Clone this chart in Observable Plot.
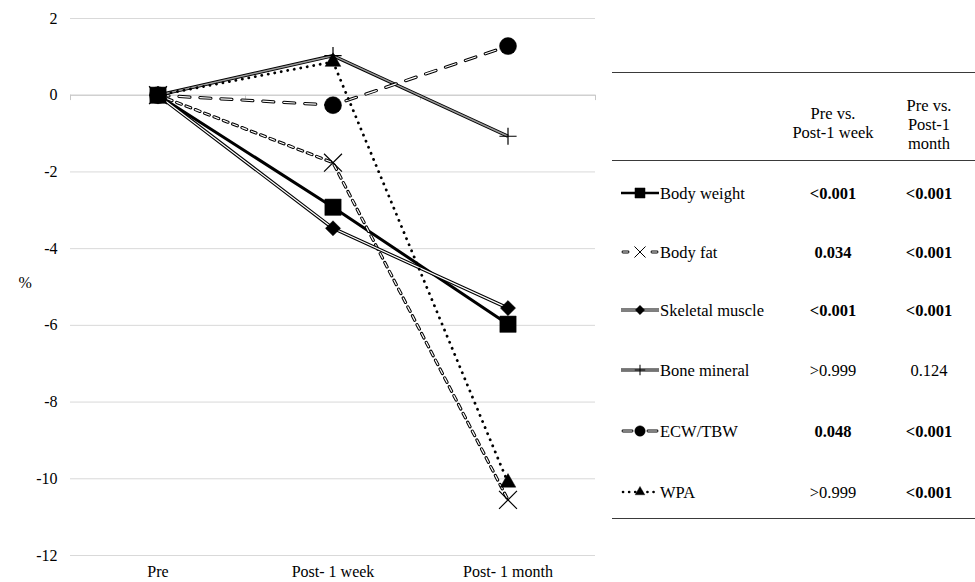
<!DOCTYPE html>
<html><head><meta charset="utf-8">
<script src="https://cdn.jsdelivr.net/npm/d3@7"></script>
<script src="https://cdn.jsdelivr.net/npm/@observablehq/plot@0.6"></script>
<style>
body{margin:0;background:#fff;font-family:"Liberation Serif","Times New Roman",serif;}
#wrap{position:relative;width:975px;height:582px;overflow:hidden;font-family:"Liberation Serif","Times New Roman",serif;}
#chart{position:absolute;left:0;top:0;}
#chart svg, #chart svg text{font-family:"Liberation Serif","Times New Roman",serif !important;}
.t{position:absolute;font-size:16.5px;color:#000;white-space:nowrap;line-height:19px;}
.c{transform:translateX(-50%);text-align:center;}
.hl{position:absolute;left:612px;width:363px;height:0;border-top:1.3px solid #3a3a3a;}
.sw{position:absolute;}
</style></head><body><div id="wrap"><div id="chart"></div></div>
<script>
// ---- data ----
const timepoints = ["Pre", "Post- 1 week", "Post- 1 month"];
const seriesNames = ["Body weight", "Body fat", "Skeletal muscle", "Bone mineral", "ECW/TBW", "WPA"];
const bodyWeight = [0, -2.92, -5.97];
const bodyFat = [0, -1.76, -10.55];
const skeletalMuscle = [0, -3.47, -5.55];
const boneMineral = [0, 1.03, -1.07];
const ecwTbw = [0, -0.26, 1.28];
const wpa = [0, 0.87, -10.1];
const yTicks = [2, 0, -2, -4, -6, -8, -10, -12];
const headerWeek = ["Pre vs.", "Post-1 week"];
const headerMonth = ["Pre vs.", "Post-1", "month"];
const pWeek = ["<0.001", "0.034", "<0.001", ">0.999", "0.048", ">0.999"];
const pMonth = ["<0.001", "<0.001", "<0.001", "0.124", "<0.001", "<0.001"];
const boldWeek = [true, true, true, false, true, false];
const boldMonth = [true, true, true, false, true, true];

const seriesValues = [bodyWeight, bodyFat, skeletalMuscle, boneMineral, ecwTbw, wpa];
const data = seriesNames.flatMap((s, k) => seriesValues[k].map((v, i) => ({s, i, v})));

const FONT = "'Liberation Serif', 'Times New Roman', serif";

// ---- styles ----
const styles = {
  "Body weight": {layers: [{stroke: "#000", w: 3}], symbol: "square", r: 9.2, fill: true, legend: "solid"},
  "Body fat": {layers: [{stroke: "#000", w: 3.2, dash: "5 5", cap: "round"}, {stroke: "#fff", w: 1.2, dash: "5 5", cap: "round"}], symbol: "times", r: 8.2, fill: false, legend: "seg", seg: 5},
  "Skeletal muscle": {layers: [{stroke: "#000", w: 3.4}, {stroke: "#fff", w: 1.2}], symbol: "diamond2", r: 6.8, fill: true, legend: "solid"},
  "Bone mineral": {layers: [{stroke: "#000", w: 3.4}, {stroke: "#9a9a9a", w: 1.4}], symbol: "plus", r: 5.6, fill: false, legend: "solid"},
  "ECW/TBW": {layers: [{stroke: "#000", w: 3.2, dash: "11 10", cap: "round"}, {stroke: "#fff", w: 1.2, dash: "11 10", cap: "round"}], symbol: "circle", r: 8.5, fill: true, legend: "seg", seg: 9},
  "WPA": {layers: [{stroke: "#000", w: 2.8, dash: "0.1 6.5", cap: "round"}], symbol: "triangle", r: 5.8, fill: true, legend: "dots"}
};

const lineMarks = [];
for (const s of seriesNames) {
  const st = styles[s];
  for (const L of st.layers) {
    lineMarks.push(Plot.line(data.filter(d => d.s === s), {
      x: "i", y: "v", stroke: L.stroke, strokeWidth: L.w,
      strokeDasharray: L.dash, strokeLinecap: L.cap || "butt", strokeLinejoin: "round"
    }));
  }
}
const dotMarks = [];
for (const s of seriesNames.slice().reverse()) {
  const st = styles[s];
  dotMarks.push(Plot.dot(data.filter(d => d.s === s), {
    x: "i", y: "v", symbol: () => st.symbol, r: st.r,
    fill: st.fill ? "#000" : "none", stroke: "#000", strokeWidth: st.fill ? 0.5 : 1.2
  }));
}

const boundaries = d3.range(timepoints.length + 1).map(i => i - 0.5);

const chart = Plot.plot({
  width: 600, height: 582,
  marginLeft: 70, marginRight: 5, marginTop: 18, marginBottom: 27,
  style: {fontFamily: FONT, fontSize: "16px", color: "#000", background: "#fff", overflow: "visible"},
  x: {domain: [-0.5, timepoints.length - 0.5], axis: null},
  y: {domain: [-12, 2], axis: null},
  marks: [
    Plot.ruleY(yTicks, {stroke: "#d9d9d9", strokeWidth: 1}),
    Plot.ruleY([0], {stroke: "#c8c8c8", strokeWidth: 1}),
    Plot.ruleX(boundaries, {y1: 0, y2: -0.14, stroke: "#c8c8c8"}),
    Plot.axisY(yTicks, {tickSize: 0, tickPadding: 13, label: null, fontSize: 16, tickFormat: d => String(d)}),
    Plot.axisX(d3.range(timepoints.length), {tickSize: 0, tickPadding: 10, tickFormat: i => timepoints[i], label: null, fontSize: 16}),
    Plot.text(["%"], {frameAnchor: "left", dx: -52, dy: -4, fontSize: 16}),
    ...lineMarks,
    ...dotMarks
  ]
});
document.getElementById("chart").appendChild(chart);

// ---- table with legend ----
const wrap = document.getElementById("wrap");
function add(html, cls, x, y, bold) {
  const d = document.createElement("div");
  d.className = "t " + cls;
  d.style.left = x + "px";
  d.style.top = (y - 9.5) + "px";
  if (bold) d.style.fontWeight = "bold";
  d.textContent = html;
  wrap.appendChild(d);
}
function hline(y) {
  const d = document.createElement("div");
  d.className = "hl"; d.style.top = y + "px"; wrap.appendChild(d);
}
const colWeek = 833, colMonth = 929, labelX = 660, swX = 620;
const rowY = [193, 252, 310, 370, 431, 492];
hline(72); hline(160); hline(518);
headerWeek.forEach((h, j) => add(h, "c", colWeek, 113 + j * 19));
headerMonth.forEach((h, j) => add(h, "c", colMonth, 105 + j * 19));

const symMap = {square: d3.symbolSquare, times: d3.symbolTimes, diamond2: d3.symbolDiamond2, plus: d3.symbolPlus, circle: d3.symbolCircle, triangle: d3.symbolTriangle};
seriesNames.forEach((s, k) => {
  const y = rowY[k];
  const st = styles[s];
  const W = 40, H = 20, cy = H / 2;
  let svg = `<svg width="${W}" height="${H}" xmlns="http://www.w3.org/2000/svg">`;
  if (st.legend === "solid") {
    for (const L of st.layers) svg += `<line x1="1" x2="${W - 1}" y1="${cy}" y2="${cy}" stroke="${L.stroke}" stroke-width="${L.w * 0.9}"/>`;
  } else if (st.legend === "seg") {
    const a = st.seg;
    for (const [x1, x2] of [[3, 3 + a], [W - 3 - a, W - 3]]) {
      for (const L of st.layers) svg += `<line x1="${x1}" x2="${x2}" y1="${cy}" y2="${cy}" stroke="${L.stroke}" stroke-width="${L.w * 0.9}" stroke-linecap="round"/>`;
    }
  } else {
    svg += `<line x1="3" x2="${W - 3}" y1="${cy}" y2="${cy}" stroke="#000" stroke-width="2.6" stroke-dasharray="0.1 6" stroke-linecap="round"/>`;
  }
  const rr = st.r * 0.62;
  const p = d3.symbol(symMap[st.symbol], Math.PI * rr * rr)();
  svg += `<path transform="translate(${W / 2},${cy})" d="${p}" fill="${st.fill ? '#000' : 'none'}" stroke="#000" stroke-width="${st.fill ? 0.4 : 1}"/>`;
  svg += `</svg>`;
  const sw = document.createElement("div");
  sw.className = "sw"; sw.style.left = swX + "px"; sw.style.top = (y - H / 2) + "px";
  sw.innerHTML = svg;
  wrap.appendChild(sw);
  add(s, "", labelX, y);
  add(pWeek[k], "c", colWeek, y, boldWeek[k]);
  add(pMonth[k], "c", colMonth, y, boldMonth[k]);
});
</script></body></html>
